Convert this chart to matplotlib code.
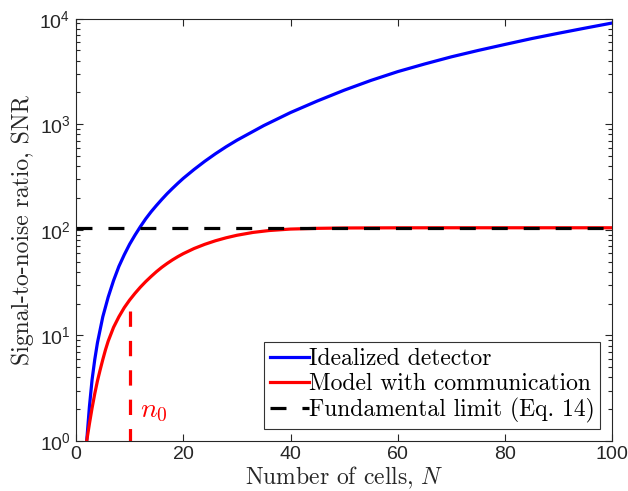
import matplotlib
matplotlib.use("Agg")
import matplotlib.pyplot as plt
from matplotlib.ticker import LogLocator, NullFormatter

# values
n_ideal = [2, 2.5, 3, 3.5, 4, 5, 6, 7, 8, 9, 10, 11, 12, 13, 14, 15, 16, 17, 18,
           19, 20, 22, 24, 26, 28, 30, 35, 40, 45, 50, 55, 60, 65, 70, 75, 80, 85,
           90, 95, 100]
snr_ideal = [1.0, 2.1, 3.8, 5.9, 8.5, 15, 23, 33, 45, 58, 73, 89, 107, 127, 148,
             170, 194, 220, 247, 276, 307, 372, 445, 525, 612, 705, 970, 1290,
             1660, 2100, 2600, 3150, 3720, 4350, 5000, 5700, 6480, 7280, 8150, 9100]

n_comm = [2, 2.5, 3, 3.5, 4, 4.5, 5, 5.5, 6, 7, 8, 9, 10, 11, 12, 13, 14, 15, 16,
          17, 18, 19, 20, 22, 24, 26, 28, 30, 33, 36, 40, 45, 50, 60, 70, 80, 90,
          100]
snr_comm = [1.0, 1.45, 2.05, 2.8, 3.7, 4.7, 5.9, 7.3, 8.8, 11.9, 15.0, 18.3, 21.6,
            25.0, 28.6, 32.3, 36.1, 40.1, 44.1, 48.0, 51.9, 55.7, 59.4, 66.4, 72.8,
            78.7, 84.0, 88.7, 94.4, 98.4, 101.6, 103.2, 104.0, 104.4, 104.5, 104.5,
            104.5, 104.5]

snr_limit = 104.5
n0 = 10
n0_top = 17

plt.rcParams["font.family"] = ["Liberation Sans", "DejaVu Sans"]
plt.rcParams["mathtext.fontset"] = "custom"
plt.rcParams["mathtext.rm"] = "cmr10"
plt.rcParams["mathtext.it"] = "cmmi10"
plt.rcParams["axes.formatter.use_mathtext"] = True

dark = "#262626"
serif = "cmr10"

fig = plt.figure(figsize=(6.28, 4.91), dpi=100)
ax = fig.add_axes([0.121, 0.102, 0.854, 0.860])

ax.plot(n_ideal, snr_ideal, color="#0000ff", lw=2.3, label="Idealized detector")
ax.plot(n_comm, snr_comm, color="#ff0000", lw=2.3, label="Model with communication")
ax.plot([0, 100], [snr_limit, snr_limit], color="black", lw=2.3, dashes=(5, 5),
        label="Fundamental limit (Eq. 14)")
ax.plot([n0, n0], [n0_top, 1], color="#ff0000", lw=2.3, dashes=(4.8, 4.4))
ax.text(12.0, 1.9, "$n_0$", color="#ff0000", fontsize=20, va="center", ha="left")

ax.set_yscale("log")
ax.set_xlim(0, 100)
ax.set_ylim(1, 1e4)
ax.set_xticks([0, 20, 40, 60, 80, 100])
ax.yaxis.set_minor_locator(LogLocator(base=10, subs=range(2, 10), numticks=20))
ax.yaxis.set_minor_formatter(NullFormatter())

ax.tick_params(which="both", direction="in", top=True, right=True, colors=dark,
               labelsize=14, width=0.8)
ax.tick_params(which="major", length=5, pad=4)
ax.tick_params(which="minor", length=3)
for sp in ax.spines.values():
    sp.set_color(dark)
    sp.set_linewidth(0.8)

ax.set_xlabel("Number of cells, $N$", fontfamily=serif, fontsize=17, color=dark,
              labelpad=1)
ax.set_ylabel("Signal-to-noise ratio, SNR", fontfamily=serif, fontsize=17,
              color=dark, labelpad=4)

leg = ax.legend(loc="lower right", prop={"family": serif, "size": 17},
                frameon=True, fancybox=False, handlelength=1.65, handletextpad=0.0,
                borderpad=0.25, labelspacing=0.12, borderaxespad=0.5)
leg.get_frame().set_edgecolor("black")
leg.get_frame().set_linewidth(0.8)

fig.savefig("out.png", dpi=100)
